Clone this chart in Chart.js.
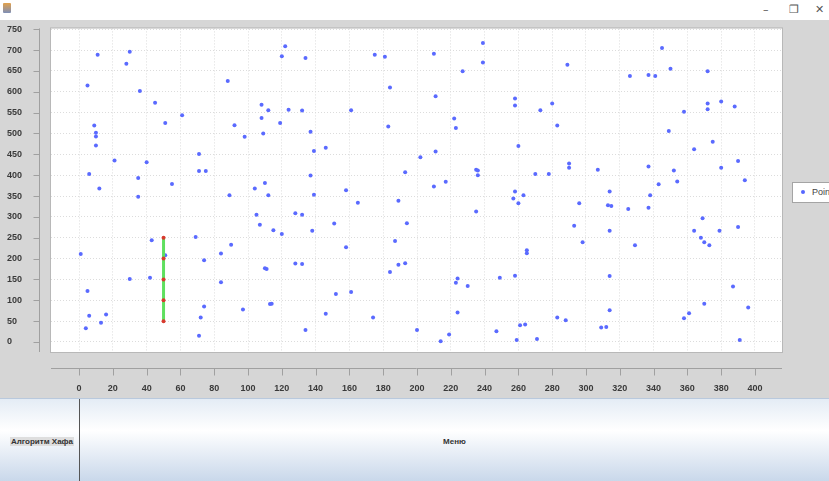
<!DOCTYPE html>
<html>
<head>
<meta charset="utf-8">
<script src="https://cdn.jsdelivr.net/npm/chart.js@4/dist/chart.umd.min.js"></script>
<style>
  html, body { margin: 0; padding: 0; width: 829px; height: 481px; overflow: hidden; background: #ffffff; font-family: 'Liberation Sans', Arial, sans-serif; }
  #titlebar { position: absolute; left: 0; top: 0; width: 829px; height: 20px; background: #ffffff; }
  #icon { position: absolute; left: 3px; top: 3px; width: 8px; height: 10px; background: linear-gradient(#e2a04a, #7d8fb8); border-radius: 1px; }
  .ctl { position: absolute; top: 3px; font-size: 11px; color: #555; font-family: 'DejaVu Sans', sans-serif; }
  #wrap { position: absolute; left: 0; top: 20px; width: 829px; height: 378px; background: #d6d6d6; }
  #legend { position: absolute; left: 792px; top: 162px; width: 60px; height: 19px; background: #ffffff; border: 1px solid #a4a4a4; }
  #legend .dot { position: absolute; left: 8px; top: 7px; width: 4px; height: 4px; border-radius: 2px; background: #5566ff; }
  #legend .txt { position: absolute; left: 19px; top: 4px; font-size: 9px; color: #444; }
  #bottom { position: absolute; left: 0; top: 398px; width: 829px; height: 83px; border-top: 1px solid #b9c9dd;
            background: linear-gradient(to bottom, #e4ecf5 0%, #ffffff 38%, #c8d7ea 100%); }
  #divider { position: absolute; left: 79px; top: 0; width: 1px; height: 83px; background: #555; }
  #algo { position: absolute; left: 10px; top: 38px; font-size: 8px; font-weight: bold; color: #333; background: #dedede; padding: 0 1px; }
  #menu { position: absolute; left: 80px; width: 749px; top: 38px; text-align: center; font-size: 8px; font-weight: bold; color: #333; }
</style>
</head>
<body>
<div id="titlebar">
  <div id="icon"></div>
  <span class="ctl" style="left:763px">–</span>
  <span class="ctl" style="left:789px">❐</span>
  <span class="ctl" style="left:815px">✕</span>
</div>
<div id="wrap">
  <canvas id="scatter" width="829" height="378"></canvas>
  <div id="legend"><span class="dot"></span><span class="txt">Points</span></div>
</div>
<div id="bottom">
  <div id="divider"></div>
  <span id="algo">Алгоритм Хафа</span>
  <div id="menu">Меню</div>
</div>
<script>
// точки (x, y)
const blueX = [11, 30, 28, 122, 120, 134, 175, 181, 5, 88, 36, 184, 45, 108, 112, 124, 132, 161, 61, 51,
  108, 119, 92, 9, 183, 10, 10, 98, 109, 137, 10, 139, 146, 21, 40, 71, 6, 71, 75, 35,
  137, 193, 12, 55, 35, 104, 110, 89, 112, 139, 158, 165, 189, 105, 128, 132, 107, 115, 120, 138,
  151, 194, 43, 69, 90, 158, 187, 1, 51, 84, 74, 110, 111, 128, 132, 184, 189, 193, 30, 42,
  84, 5, 152, 161, 74, 97, 113, 114, 6, 16, 13, 4, 72, 146, 174, 71, 134,
  239, 210, 239, 227, 289, 345, 326, 337, 341, 350, 372, 211, 258, 258, 273, 280, 372, 372, 380, 388,
  358, 222, 223, 283, 349, 260, 375, 364, 202, 211, 235, 236, 236, 270, 278, 290, 290, 307, 337, 352,
  380, 390, 210, 217, 343, 354, 394, 258, 263, 257, 260, 314, 338, 296, 313, 315, 325, 337, 235, 369,
  293, 314, 364, 379, 390, 298, 329, 368, 370, 373, 265, 265, 224, 223, 230, 249, 258, 314, 387, 224,
  314, 370, 361, 358, 396, 283, 288, 200, 219, 214, 247, 261, 264, 259, 271, 309, 312, 391];
const blueY = [689, 696, 667, 709, 685, 681, 689, 684, 615, 626, 602, 610, 574, 569, 556, 557, 555, 556, 544, 525,
  537, 525, 520, 519, 517, 502, 493, 492, 500, 504, 471, 458, 466, 435, 431, 451, 403, 410, 410, 393,
  399, 407, 368, 379, 348, 368, 381, 352, 352, 353, 364, 334, 339, 305, 309, 305, 281, 268, 259, 267,
  284, 285, 244, 252, 233, 227, 242, 211, 208, 212, 196, 177, 175, 188, 187, 168, 185, 189, 151, 154,
  143, 122, 115, 120, 85, 78, 91, 92, 63, 66, 46, 33, 59, 68, 59, 15, 29,
  717, 691, 670, 649, 665, 705, 638, 640, 638, 655, 649, 589, 584, 567, 556, 572, 572, 558, 577, 565,
  552, 536, 513, 519, 506, 470, 480, 462, 443, 457, 413, 411, 400, 403, 403, 428, 418, 413, 421, 411,
  418, 434, 373, 384, 378, 385, 388, 361, 352, 344, 333, 361, 352, 333, 328, 326, 319, 322, 313, 297,
  279, 267, 267, 267, 276, 239, 232, 250, 239, 232, 220, 213, 152, 142, 134, 154, 159, 158, 133, 71,
  76, 92, 69, 57, 83, 59, 52, 29, 18, 2, 26, 40, 42, 5, 7, 35, 36, 5];

// найденный отрезок
const segX = [50, 50, 50, 50, 50];
const segY = [50, 100, 150, 200, 250];

// оси
const xMin = -16.6, xMax = 416, xStep = 20;
const yMin = -24, yMax = 752, yStep = 50;

const toXY = (xs, ys) => xs.map((x, i) => ({ x: x, y: ys[i] }));

// белый фон графика + оси вынесены наружу как в JFreeChart
const framePlugin = {
    id: 'frame',
    beforeDraw(chart) {
        const { ctx, chartArea: a } = chart;
        ctx.save();
        ctx.fillStyle = '#ffffff';
        ctx.fillRect(a.left, a.top, a.right - a.left, a.bottom - a.top);
        ctx.restore();
    },
    afterDraw(chart) {
        const { ctx, chartArea: a, scales } = chart;
        ctx.save();
        ctx.strokeStyle = '#a0a0a0';
        ctx.lineWidth = 1;
        ctx.beginPath();
        const ax = a.left - 11.5;
        ctx.moveTo(ax, a.top);
        ctx.lineTo(ax, a.bottom);
        scales.y.ticks.forEach(t => {
            const p = Math.round(scales.y.getPixelForValue(t.value)) + 0.5;
            ctx.moveTo(ax - 6, p);
            ctx.lineTo(ax, p);
        });
        const ay = a.bottom + 16.5;
        ctx.moveTo(a.left, ay);
        ctx.lineTo(a.right, ay);
        scales.x.ticks.forEach(t => {
            const p = Math.round(scales.x.getPixelForValue(t.value)) + 0.5;
            ctx.moveTo(p, ay);
            ctx.lineTo(p, ay + 7);
        });
        ctx.stroke();
        ctx.strokeStyle = '#b8b8b8';
        ctx.strokeRect(a.left - 0.5, a.top - 0.5, a.right - a.left + 1, a.bottom - a.top + 1);
        ctx.restore();
    }
};

Chart.defaults.font.family = "'Liberation Sans', Arial, sans-serif";

new Chart(document.getElementById('scatter'), {
    type: 'scatter',
    data: {
        datasets: [{
            label: 'Points',
            data: toXY(blueX, blueY),
            backgroundColor: '#5a6aff',
            borderColor: '#5a6aff',
            pointRadius: 2,
            borderWidth: 0,
            order: 3
        }, {
            label: 'segment',
            type: 'line',
            data: [{ x: segX[0], y: segY[0] }, { x: segX[segX.length - 1], y: segY[segY.length - 1] }],
            borderColor: '#5fe05f',
            borderWidth: 3,
            pointRadius: 0,
            showLine: true,
            order: 2
        }, {
            label: 'ends',
            data: toXY(segX, segY),
            backgroundColor: '#d83a2e',
            borderColor: '#d83a2e',
            pointRadius: 2,
            borderWidth: 0,
            order: 1
        }]
    },
    options: {
        responsive: false,
        animation: false,
        layout: { padding: { left: 7, top: 8, right: 47, bottom: 0 } },
        plugins: { legend: { display: false }, tooltip: { enabled: false } },
        scales: {
            x: {
                type: 'linear',
                min: xMin,
                max: xMax,
                afterFit: s => { s.height = 46; },
                grid: { color: '#dcdcdc', drawTicks: false },
                border: { display: false, dash: [1, 2] },
                ticks: {
                    stepSize: xStep,
                    includeBounds: false,
                    autoSkip: false,
                    maxRotation: 0,
                    padding: 31,
                    color: '#3a3a3a',
                    font: { size: 9, weight: 'bold' },
                    callback: v => (v % xStep === 0 ? v : '')
                }
            },
            y: {
                type: 'linear',
                min: yMin,
                max: yMax,
                afterFit: s => { s.width = 44; },
                grid: { color: '#dcdcdc', drawTicks: false },
                border: { display: false, dash: [1, 2] },
                ticks: {
                    stepSize: yStep,
                    includeBounds: false,
                    autoSkip: false,
                    crossAlign: 'far',
                    color: '#3a3a3a',
                    font: { size: 9, weight: 'bold' },
                    callback: v => (v % yStep === 0 ? v : '')
                }
            }
        }
    },
    plugins: [framePlugin]
});
</script>
</body>
</html>
